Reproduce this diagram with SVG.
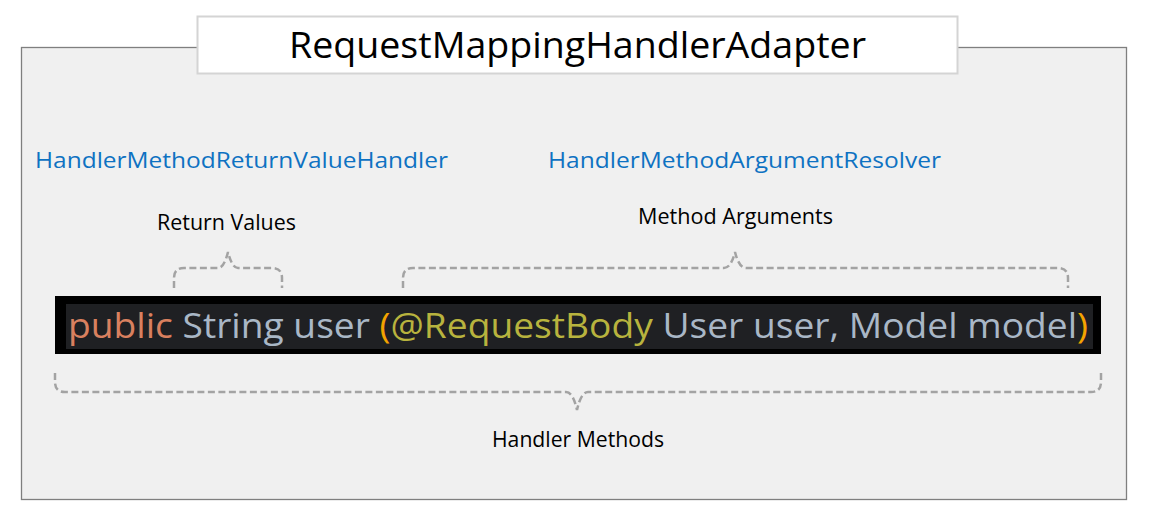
<svg xmlns="http://www.w3.org/2000/svg" width="1155" height="512" viewBox="0 0 1155 512">
<style>
.brace{fill:none;stroke:#a3a3a3;stroke-width:2.5;stroke-dasharray:7 3.5}
.lbl{font-family:"Open Sans","Noto Sans",sans-serif;font-size:21px;fill:#000;text-anchor:middle}
.cls{font-family:"Open Sans","Noto Sans",sans-serif;font-size:22px;fill:#0e72c2}
.code{font-family:"Open Sans","Noto Sans",sans-serif;font-size:35px}
</style>
<rect width="1155" height="512" fill="#fff"/>
<g id="adapter">
<rect x="21.5" y="47.5" width="1105" height="452" fill="#f0f0f0" stroke="#7f7f7f" stroke-width="1.3"/>
<rect x="197.5" y="16.5" width="760" height="57" fill="#fff" stroke="#d4d4d4" stroke-width="2"/>
<text x="577.5" y="58" font-family="'Open Sans','Noto Sans',sans-serif" font-size="37" text-anchor="middle" fill="#000" textLength="577" lengthAdjust="spacingAndGlyphs">RequestMappingHandlerAdapter</text>
</g>
<g id="returnHandler"><text class="cls" x="35" y="168" textLength="413" lengthAdjust="spacingAndGlyphs">HandlerMethodReturnValueHandler</text></g>
<g id="argResolver"><text class="cls" x="548" y="168" textLength="393" lengthAdjust="spacingAndGlyphs">HandlerMethodArgumentResolver</text></g>
<g id="returnValues"><text class="lbl" x="226.5" y="230" textLength="139" lengthAdjust="spacingAndGlyphs">Return Values</text></g>
<g id="methodArgs"><text class="lbl" x="735.5" y="224" textLength="195" lengthAdjust="spacingAndGlyphs">Method Arguments</text></g>
<g id="handlerMethods"><text class="lbl" x="578" y="447" textLength="172" lengthAdjust="spacingAndGlyphs">Handler Methods</text></g>
<g id="code">
<rect x="55" y="296" width="1046" height="58" fill="#000"/>
<rect x="66" y="304" width="1027" height="45" fill="#1f2023"/>
<text class="code" x="68" y="338" textLength="1020" lengthAdjust="spacingAndGlyphs"><tspan fill="#d9805f">public</tspan><tspan fill="#a9b7c6"> String user</tspan><tspan fill="#f4a300"> (</tspan><tspan fill="#b8b33e">@RequestBody</tspan><tspan fill="#a9b7c6"> User user, Model model</tspan><tspan fill="#f4a300">)</tspan></text>
</g>
<g id="connectors">
<path class="brace" d="M174 288 V278 Q174 268 184 268 H218 Q224 268 228 252 Q232 268 238 268 H272 Q282 268 282 278 V288"/>
<path class="brace" d="M403 288 V278 Q403 268 413 268 H724 Q731 268 735 252 Q739 268 746 268 H1058 Q1068 268 1068 278 V288"/>
<path class="brace" d="M55 373 V382 Q55 392 65 392 H566 Q573 392 577 410 Q581 392 588 392 H1091 Q1101 392 1101 382 V373"/>
</g>
</svg>
